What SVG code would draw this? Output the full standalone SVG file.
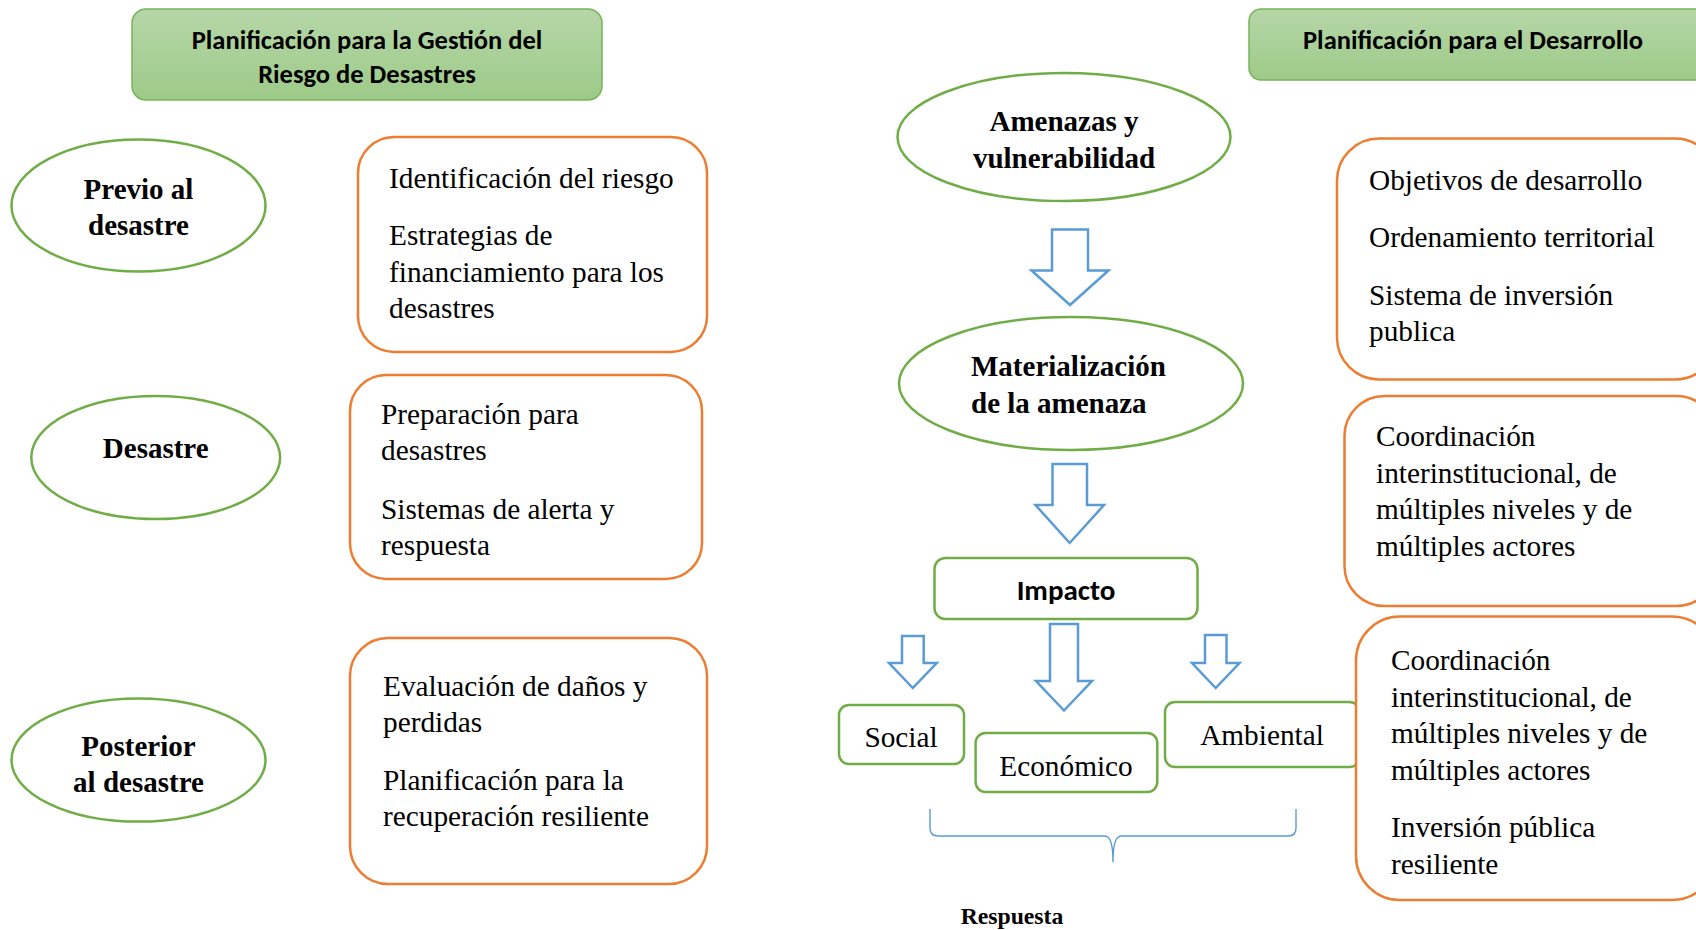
<svg xmlns="http://www.w3.org/2000/svg" width="1696" height="930" viewBox="0 0 1696 930">
<defs>
<linearGradient id="gHdr" x1="0" y1="0" x2="0" y2="1">
<stop offset="0" stop-color="#b6d7a8"/>
<stop offset="1" stop-color="#9dca88"/>
</linearGradient>
<style>
.hdr{fill:url(#gHdr);stroke:#78b35a;stroke-width:1.5}
.hdrt{font-family:Calibri,Carlito,"Open Sans",sans-serif;font-weight:700;font-size:26.5px;fill:#000;text-anchor:middle}
.ell{fill:#fff;stroke:#70ad47;stroke-width:2.5}
.ellt{font-family:"Liberation Serif","Times New Roman",serif;font-weight:700;font-size:29px;fill:#000;text-anchor:middle}
.obox{fill:#fff;stroke:#ed7d31;stroke-width:2.5}
.gbox{fill:#fff;stroke:#70ad47;stroke-width:2.5}
.body{font-family:"Liberation Serif","Times New Roman",serif;font-size:29.3px;fill:#000}
.mid{text-anchor:middle}
.arr{fill:#fff;stroke:#5b9bd5;stroke-width:2.5;stroke-linejoin:miter}
.brace{fill:none;stroke:#5b9bd5;stroke-width:1.4}
.imp{font-family:Calibri,Carlito,"Open Sans",sans-serif;font-weight:700;font-size:29px;fill:#000;text-anchor:middle}
</style>
</defs>
<rect width="1696" height="930" fill="#fff"/>

<g id="hdr-left">
<rect class="hdr" x="132" y="9" width="470" height="91" rx="14"/>
<text class="hdrt" x="367" y="49">Planificación para la Gestión del</text>
<text class="hdrt" x="367" y="83">Riesgo de Desastres</text>
</g>
<g id="hdr-right">
<rect class="hdr" x="1249" y="9" width="460" height="71" rx="12"/>
<text class="hdrt" x="1473" y="49">Planificación para el Desarrollo</text>
</g>

<g id="previo">
<ellipse class="ell" cx="138.5" cy="205.5" rx="127" ry="66"/>
<text class="ellt" x="138.5" y="199">Previo al</text>
<text class="ellt" x="138.5" y="235">desastre</text>
</g>
<g id="desastre">
<ellipse class="ell" cx="155.7" cy="457.5" rx="124.4" ry="61.6"/>
<text class="ellt" x="155.7" y="458">Desastre</text>
</g>
<g id="posterior">
<ellipse class="ell" cx="138.5" cy="760" rx="127" ry="61.6"/>
<text class="ellt" x="138.5" y="756">Posterior</text>
<text class="ellt" x="138.5" y="792">al desastre</text>
</g>

<g id="box-previo">
<rect class="obox" x="358" y="137" width="349" height="215" rx="36"/>
<text class="body" x="389" y="187.5">Identificación del riesgo</text>
<text class="body" x="389" y="245">Estrategias de</text>
<text class="body" x="389" y="281.5">financiamiento para los</text>
<text class="body" x="389" y="317.5">desastres</text>
</g>
<g id="box-desastre">
<rect class="obox" x="350" y="375" width="352" height="204" rx="36"/>
<text class="body" x="381" y="423.5">Preparación para</text>
<text class="body" x="381" y="459.5">desastres</text>
<text class="body" x="381" y="518.5">Sistemas de alerta y</text>
<text class="body" x="381" y="554.5">respuesta</text>
</g>
<g id="box-posterior">
<rect class="obox" x="350" y="638" width="357" height="246" rx="38"/>
<text class="body" x="383" y="695.5">Evaluación de daños y</text>
<text class="body" x="383" y="731.5">perdidas</text>
<text class="body" x="383" y="789.5">Planificación para la</text>
<text class="body" x="383" y="825.5">recuperación resiliente</text>
</g>

<g id="amenazas">
<ellipse class="ell" cx="1064" cy="137" rx="166.5" ry="64"/>
<text class="ellt" x="1064" y="131">Amenazas y</text>
<text class="ellt" x="1064" y="168">vulnerabilidad</text>
</g>
<g id="materializacion">
<ellipse class="ell" cx="1071" cy="383.5" rx="172" ry="66.5"/>
<text class="ellt" x="971" y="376" style="text-anchor:start">Materialización</text>
<text class="ellt" x="971" y="413" style="text-anchor:start">de la amenaza</text>
</g>
<g id="impacto">
<rect class="gbox" x="934.5" y="558" width="263" height="61" rx="11"/>
<text class="imp" x="1066" y="600">Impacto</text>
</g>
<g id="social">
<rect class="gbox" x="839" y="705" width="125" height="59" rx="10"/>
<text class="body mid" x="901" y="747">Social</text>
</g>
<g id="economico">
<rect class="gbox" x="975.6" y="733" width="181.7" height="59" rx="10"/>
<text class="body mid" x="1066" y="776">Económico</text>
</g>
<g id="ambiental">
<rect class="gbox" x="1165" y="702" width="194.6" height="65" rx="10"/>
<text class="body mid" x="1262" y="745">Ambiental</text>
</g>
<g id="respuesta">
<text x="1012" y="924" style="font-family:'Liberation Serif','Times New Roman',serif;font-weight:700;font-size:23.7px;text-anchor:middle">Respuesta</text>
</g>

<g id="box-objetivos">
<rect class="obox" x="1337" y="138.5" width="380" height="241" rx="42"/>
<text class="body" x="1369" y="189.5">Objetivos de desarrollo</text>
<text class="body" x="1369" y="247">Ordenamiento territorial</text>
<text class="body" x="1369" y="304.5">Sistema de inversión</text>
<text class="body" x="1369" y="341">publica</text>
</g>
<g id="box-coord1">
<rect class="obox" x="1344.5" y="396" width="372" height="210" rx="40"/>
<text class="body" x="1376" y="446">Coordinación</text>
<text class="body" x="1376" y="482.5">interinstitucional, de</text>
<text class="body" x="1376" y="518.5">múltiples niveles y de</text>
<text class="body" x="1376" y="555.5">múltiples actores</text>
</g>
<g id="box-coord2">
<rect class="obox" x="1356" y="616.5" width="360" height="283.5" rx="44"/>
<text class="body" x="1391" y="669.5">Coordinación</text>
<text class="body" x="1391" y="706.5">interinstitucional, de</text>
<text class="body" x="1391" y="743">múltiples niveles y de</text>
<text class="body" x="1391" y="779.5">múltiples actores</text>
<text class="body" x="1391" y="836.5">Inversión pública</text>
<text class="body" x="1391" y="873.5">resiliente</text>
</g>

<g id="connectors">
<path class="arr" d="M1052,229.5 H1088 V270.5 H1108.5 L1070,305 L1031.5,270.5 H1052 Z"/>
<path class="arr" d="M1052.5,464 H1087 V505 H1104 L1069.7,543 L1035.5,505 H1052.5 Z"/>
<path class="arr" d="M902,636 H923.7 V663 H936.7 L912.8,688 L889,663 H902 Z"/>
<path class="arr" d="M1050,624 H1078 V681 H1092 L1064,710.5 L1036,681 H1050 Z"/>
<path class="arr" d="M1205,635 H1226.5 V663 H1239.5 L1215.7,688 L1192,663 H1205 Z"/>
<path class="brace" d="M930,809 V828 Q930,836 938,836 H1105 Q1113,836 1113,862 Q1113,836 1121,836 H1288 Q1296,836 1296,828 V809"/>
</g>
</svg>
